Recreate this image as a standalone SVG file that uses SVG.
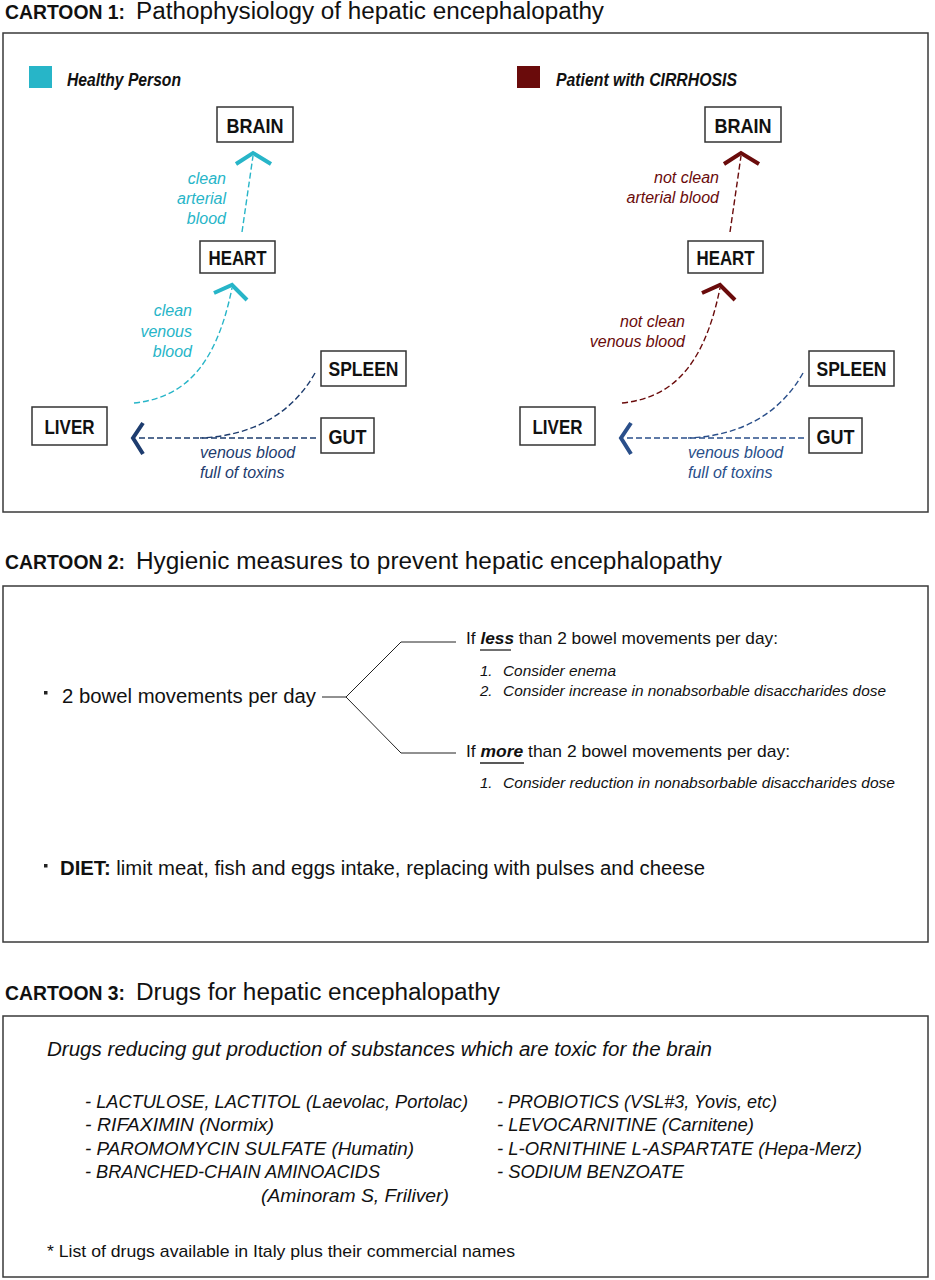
<svg xmlns="http://www.w3.org/2000/svg" width="935" height="1280" viewBox="0 0 935 1280">
<style>
.frame{fill:#fff;stroke:#3a3a3a;stroke-width:1.5}
.node rect{fill:#fff;stroke:#333;stroke-width:1.5}
.node text{font-family:"Liberation Sans",Arial,sans-serif;font-weight:bold;font-size:21px;text-anchor:middle;fill:#111}
.ttl{font-family:"Liberation Sans",Arial,sans-serif;font-size:23px;fill:#111}
.ttlb{font-family:"Liberation Sans",Arial,sans-serif;font-size:20px;font-weight:900;fill:#111}
.lbl{font-family:"Liberation Sans",Arial,sans-serif;font-style:italic;font-size:16px}
.teal{fill:#27b5c8}.maroon{fill:#6a0b0b}.navy{fill:#1d3c6e}
.body{font-family:"Liberation Sans",Arial,sans-serif;fill:#111}
.dt{fill:none;stroke-width:1.4;stroke-dasharray:6 3}
.chev{fill:none;stroke-width:4;stroke-linejoin:miter}
.br{fill:none;stroke:#222;stroke-width:1}
</style>

<!-- CARTOON 1 -->
<text class="ttlb" x="5" y="19" textLength="120" lengthAdjust="spacingAndGlyphs">CARTOON 1:</text>
<text class="ttl" x="136" y="19" textLength="468" lengthAdjust="spacingAndGlyphs">Pathophysiology of hepatic encephalopathy</text>
<rect class="frame" x="3" y="33" width="925" height="479"/>

<g id="legend-healthy">
<rect x="29" y="66" width="23" height="22" fill="#27b5c8"/>
<text class="body" x="67" y="86" font-size="18" font-style="italic" font-weight="bold" textLength="114" lengthAdjust="spacingAndGlyphs">Healthy Person</text>
</g>
<g id="legend-cirrhosis">
<rect x="517" y="66" width="23" height="22" fill="#6a0b0b"/>
<text class="body" x="556" y="86" font-size="18" font-style="italic" font-weight="bold" textLength="181" lengthAdjust="spacingAndGlyphs">Patient with CIRRHOSIS</text>
</g>

<g id="connectors">
<!-- healthy -->
<path class="dt" stroke="#27b5c8" d="M242,232 L253,156"/>
<polyline class="chev" stroke="#27b5c8" points="236,164 253,153 271,164"/>
<path class="dt" stroke="#27b5c8" d="M134,403 C180,398 215,372 232,288"/>
<polyline class="chev" stroke="#27b5c8" points="214,293 232,285 247,300"/>
<path class="dt" stroke="#1d3c6e" d="M315,373 C292,414 252,436 200,438"/>
<path class="dt" stroke="#1d3c6e" d="M316,438 L136,438"/>
<polyline class="chev" stroke="#1d3c6e" points="143,423 133,438 143,454"/>
<!-- cirrhosis -->
<path class="dt" stroke="#6a0b0b" d="M730,232 L741,156"/>
<polyline class="chev" stroke="#6a0b0b" points="724,164 741,153 759,164"/>
<path class="dt" stroke="#6a0b0b" d="M622,403 C668,398 703,372 720,288"/>
<polyline class="chev" stroke="#6a0b0b" points="702,293 720,285 735,300"/>
<path class="dt" stroke="#2a4f8a" d="M803,373 C780,414 740,436 688,438"/>
<path class="dt" stroke="#2a4f8a" d="M804,438 L624,438"/>
<polyline class="chev" stroke="#2a4f8a" points="631,423 621,438 631,454"/>
</g>

<g id="labels-healthy">
<text class="lbl teal" text-anchor="end" x="226" y="184">clean</text>
<text class="lbl teal" text-anchor="end" x="226" y="204">arterial</text>
<text class="lbl teal" text-anchor="end" x="226" y="224">blood</text>
<text class="lbl teal" text-anchor="end" x="192" y="316">clean</text>
<text class="lbl teal" text-anchor="end" x="192" y="337">venous</text>
<text class="lbl teal" text-anchor="end" x="192" y="357">blood</text>
<text class="lbl navy" x="200" y="458">venous blood</text>
<text class="lbl navy" x="200" y="478">full of toxins</text>
</g>
<g id="labels-cirrhosis">
<text class="lbl maroon" text-anchor="end" x="719" y="183">not clean</text>
<text class="lbl maroon" text-anchor="end" x="719" y="203">arterial blood</text>
<text class="lbl maroon" text-anchor="end" x="685" y="327">not clean</text>
<text class="lbl maroon" text-anchor="end" x="685" y="347">venous blood</text>
<text class="lbl" fill="#2a4f8a" x="688" y="458">venous blood</text>
<text class="lbl" fill="#2a4f8a" x="688" y="478">full of toxins</text>
</g>

<g id="brain-1" class="node"><rect x="217" y="107" width="76" height="35"/><text x="255" y="133" textLength="57" lengthAdjust="spacingAndGlyphs">BRAIN</text></g>
<g id="heart-1" class="node"><rect x="200" y="241" width="75" height="32"/><text x="237.5" y="265" textLength="58" lengthAdjust="spacingAndGlyphs">HEART</text></g>
<g id="spleen-1" class="node"><rect x="321" y="351" width="85" height="35"/><text x="363.5" y="376" textLength="70" lengthAdjust="spacingAndGlyphs">SPLEEN</text></g>
<g id="gut-1" class="node"><rect x="321" y="418" width="53" height="35"/><text x="347.5" y="444" textLength="38" lengthAdjust="spacingAndGlyphs">GUT</text></g>
<g id="liver-1" class="node"><rect x="32" y="407" width="75" height="38"/><text x="69.5" y="434" textLength="50" lengthAdjust="spacingAndGlyphs">LIVER</text></g>

<g id="brain-2" class="node"><rect x="705" y="107" width="76" height="35"/><text x="743" y="133" textLength="57" lengthAdjust="spacingAndGlyphs">BRAIN</text></g>
<g id="heart-2" class="node"><rect x="688" y="241" width="75" height="32"/><text x="725.5" y="265" textLength="58" lengthAdjust="spacingAndGlyphs">HEART</text></g>
<g id="spleen-2" class="node"><rect x="809" y="351" width="85" height="35"/><text x="851.5" y="376" textLength="70" lengthAdjust="spacingAndGlyphs">SPLEEN</text></g>
<g id="gut-2" class="node"><rect x="809" y="418" width="53" height="35"/><text x="835.5" y="444" textLength="38" lengthAdjust="spacingAndGlyphs">GUT</text></g>
<g id="liver-2" class="node"><rect x="520" y="407" width="75" height="38"/><text x="557.5" y="434" textLength="50" lengthAdjust="spacingAndGlyphs">LIVER</text></g>

<!-- CARTOON 2 -->
<text class="ttlb" x="5" y="569" textLength="120" lengthAdjust="spacingAndGlyphs">CARTOON 2:</text>
<text class="ttl" x="136" y="569" textLength="586" lengthAdjust="spacingAndGlyphs">Hygienic measures to prevent hepatic encephalopathy</text>
<rect class="frame" x="3" y="586" width="925" height="356"/>

<g id="bowel">
<rect x="44" y="691" width="3.5" height="3.5" fill="#222"/>
<text class="body" x="62" y="703" font-size="20" textLength="254" lengthAdjust="spacingAndGlyphs">2 bowel movements per day</text>
</g>
<g id="branch">
<polyline class="br" points="322,697 346,697 401,642 456,642"/>
<polyline class="br" points="346,697 401,753 456,753"/>
</g>
<g id="less">
<text class="body" x="466" y="644" font-size="17" textLength="312" lengthAdjust="spacingAndGlyphs">If <tspan font-weight="bold" font-style="italic">less</tspan> than 2 bowel movements per day:</text>
<line x1="480" y1="650" x2="511" y2="650" stroke="#222" stroke-width="1.3"/>
<text class="body" x="480" y="676" font-size="15" font-style="italic">1.</text>
<text class="body" x="503" y="676" font-size="15" font-style="italic" textLength="113" lengthAdjust="spacingAndGlyphs">Consider enema</text>
<text class="body" x="480" y="696" font-size="15" font-style="italic">2.</text>
<text class="body" x="503" y="696" font-size="15" font-style="italic" textLength="383" lengthAdjust="spacingAndGlyphs">Consider increase in nonabsorbable disaccharides dose</text>
</g>
<g id="more">
<text class="body" x="466" y="757" font-size="17" textLength="324" lengthAdjust="spacingAndGlyphs">If <tspan font-weight="bold" font-style="italic">more</tspan> than 2 bowel movements per day:</text>
<line x1="480" y1="763" x2="524" y2="763" stroke="#222" stroke-width="1.3"/>
<text class="body" x="480" y="788" font-size="15" font-style="italic">1.</text>
<text class="body" x="503" y="788" font-size="15" font-style="italic" textLength="392" lengthAdjust="spacingAndGlyphs">Consider reduction in nonabsorbable disaccharides dose</text>
</g>
<g id="diet">
<rect x="44" y="864" width="3.5" height="3.5" fill="#222"/>
<text class="body" x="60" y="875" font-size="20" textLength="645" lengthAdjust="spacingAndGlyphs"><tspan font-weight="bold">DIET:</tspan> limit meat, fish and eggs intake, replacing with pulses and cheese</text>
</g>

<!-- CARTOON 3 -->
<text class="ttlb" x="5" y="1000" textLength="120" lengthAdjust="spacingAndGlyphs">CARTOON 3:</text>
<text class="ttl" x="136" y="1000" textLength="364" lengthAdjust="spacingAndGlyphs">Drugs for hepatic encephalopathy</text>
<rect class="frame" x="3" y="1016" width="925" height="261"/>

<g id="drugs" class="body" font-style="italic">
<text x="47" y="1056" font-size="20" textLength="665" lengthAdjust="spacingAndGlyphs">Drugs reducing gut production of substances which are toxic for the brain</text>
<text x="85" y="1108" font-size="19" textLength="383" lengthAdjust="spacingAndGlyphs">- LACTULOSE, LACTITOL (Laevolac, Portolac)</text>
<text x="85" y="1131" font-size="19" textLength="189" lengthAdjust="spacingAndGlyphs">- RIFAXIMIN (Normix)</text>
<text x="85" y="1155" font-size="19" textLength="329" lengthAdjust="spacingAndGlyphs">- PAROMOMYCIN SULFATE (Humatin)</text>
<text x="85" y="1178" font-size="19" textLength="295" lengthAdjust="spacingAndGlyphs">- BRANCHED-CHAIN AMINOACIDS</text>
<text x="261" y="1202" font-size="19" textLength="188" lengthAdjust="spacingAndGlyphs">(Aminoram S, Friliver)</text>
<text x="497" y="1108" font-size="19" textLength="280" lengthAdjust="spacingAndGlyphs">- PROBIOTICS (VSL#3, Yovis, etc)</text>
<text x="497" y="1131" font-size="19" textLength="257" lengthAdjust="spacingAndGlyphs">- LEVOCARNITINE (Carnitene)</text>
<text x="497" y="1155" font-size="19" textLength="365" lengthAdjust="spacingAndGlyphs">- L-ORNITHINE L-ASPARTATE (Hepa-Merz)</text>
<text x="497" y="1178" font-size="19" textLength="187" lengthAdjust="spacingAndGlyphs">- SODIUM BENZOATE</text>
</g>
<g id="footnote">
<text class="body" x="47" y="1257" font-size="17" textLength="468" lengthAdjust="spacingAndGlyphs">* List of drugs available in Italy plus their commercial names</text>
</g>
</svg>
